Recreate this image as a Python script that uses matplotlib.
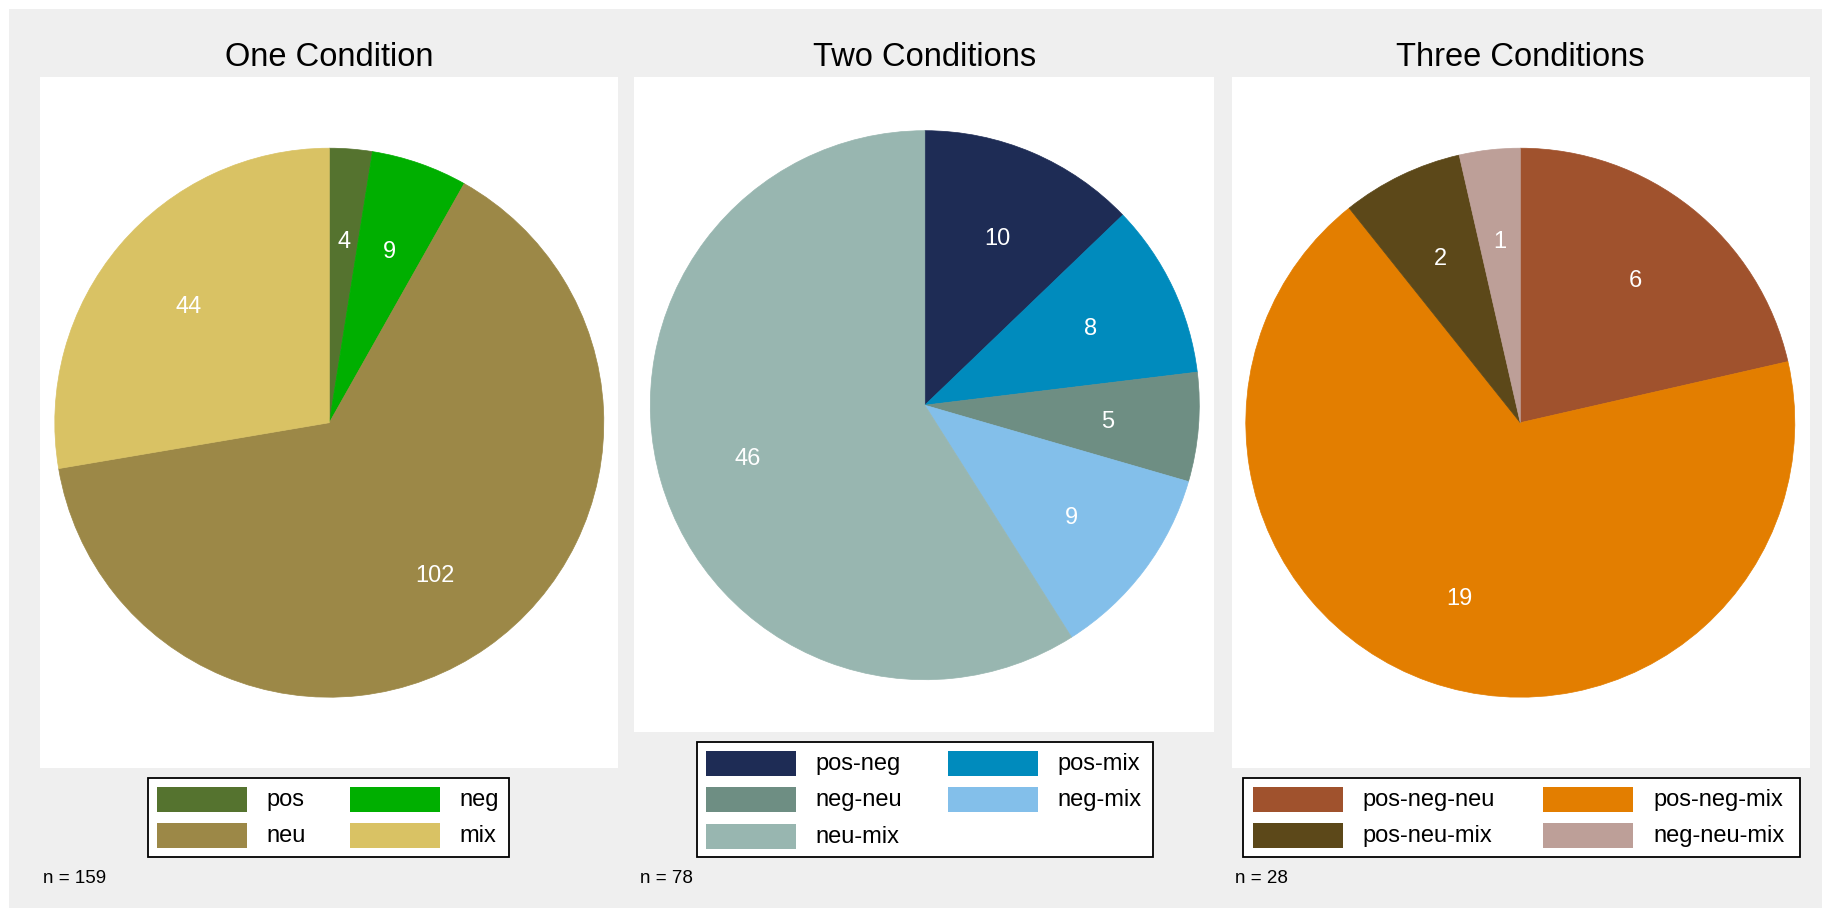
import matplotlib
matplotlib.use("Agg")
import matplotlib.pyplot as plt
from matplotlib.patches import Rectangle

plt.rcParams['font.family'] = ['Liberation Sans', 'DejaVu Sans']

# counts per category, one pie per number of conditions
titles = ["One Condition", "Two Conditions", "Three Conditions"]

one_labels = ["pos", "neg", "neu", "mix"]
one_counts = [4, 9, 102, 44]
one_colors = ["#55732f", "#00af00", "#9c8847", "#d9c264"]

two_labels = ["pos-neg", "pos-mix", "neg-neu", "neg-mix", "neu-mix"]
two_counts = [10, 8, 5, 9, 46]
two_colors = ["#1e2c55", "#008bbd", "#6e8e83", "#83bfea", "#98b6b0"]

three_labels = ["pos-neg-neu", "pos-neg-mix", "pos-neu-mix", "neg-neu-mix"]
three_counts = [6, 19, 2, 1]
three_colors = ["#a0522d", "#e37e00", "#5c4819", "#bd9f98"]

W, H = 1831, 917

fig = plt.figure(figsize=(W / 100, H / 100), dpi=100, facecolor="white")
ax = fig.add_axes([0, 0, 1, 1])


def box(x0, y0, x1, y1, **kw):
    # rectangle given in pixels from the top-left corner
    ax.add_patch(Rectangle((x0, H - y1), x1 - x0, y1 - y0, **kw))


def draw_pie(counts, colors, cx, cy, r):
    total = sum(counts)
    wedges, _, _ = ax.pie(counts, colors=colors, startangle=90, counterclock=False,
                          center=(cx, H - cy), radius=r,
                          autopct=lambda p: "%d" % int(round(p * total / 100.0)),
                          pctdistance=0.67,
                          textprops=dict(color="white", fontsize=17,
                                         va="center_baseline"))
    for w, c in zip(wedges, colors):
        w.set_edgecolor(c)
        w.set_linewidth(0.5)


def draw_legend(lbox, col_x, labels, colors):
    x0, y0, x1, y1 = lbox
    box(x0, y0, x1, y1, facecolor="white", edgecolor="black", linewidth=1.3, zorder=3)
    for i, (lab, c) in enumerate(zip(labels, colors)):
        row, col = divmod(i, 2)
        sx = x0 + col_x[col]
        sy = y0 + 9 + row * 36.5
        box(sx, sy, sx + 90, sy + 25, facecolor=c, linewidth=0, zorder=4)
        ax.text(sx + 109.5, H - (sy + 13), lab, fontsize=17, va="center", zorder=5)


# grey outer region
box(9, 9, 1822, 908, facecolor="#efefef", linewidth=0, zorder=0)

panels = [(40, 77, 618, 768), (634, 77, 1214, 732), (1232, 77, 1810, 768)]
centers = [(329.3, 422.7), (924.8, 405.2), (1520.3, 422.7)]
radius = 274.5
for (x0, y0, x1, y1) in panels:
    box(x0, y0, x1, y1, facecolor="white", linewidth=0, zorder=0.5)

data = [(one_counts, one_colors), (two_counts, two_colors), (three_counts, three_colors)]
for (counts, colors), (cx, cy) in zip(data, centers):
    draw_pie(counts, colors, cx, cy, radius)

for t, (cx, cy) in zip(titles, centers):
    ax.text(cx, H - 57, t, fontsize=23.5, ha="center", va="center")

draw_legend((148, 778, 509, 857), (9, 201.7), one_labels, one_colors)
draw_legend((697, 742, 1153, 857), (9, 251.3), two_labels, two_colors)
draw_legend((1243, 778, 1800, 857), (10, 300.5), three_labels, three_colors)

for n, x in zip([sum(one_counts), sum(two_counts), sum(three_counts)], [43, 640, 1235]):
    ax.text(x, H - 879, "n = %d" % n, fontsize=13.5, va="center")

ax.set_xlim(0, W)
ax.set_ylim(0, H)
ax.axis("off")

fig.savefig("out.png", dpi=100, facecolor="white")
